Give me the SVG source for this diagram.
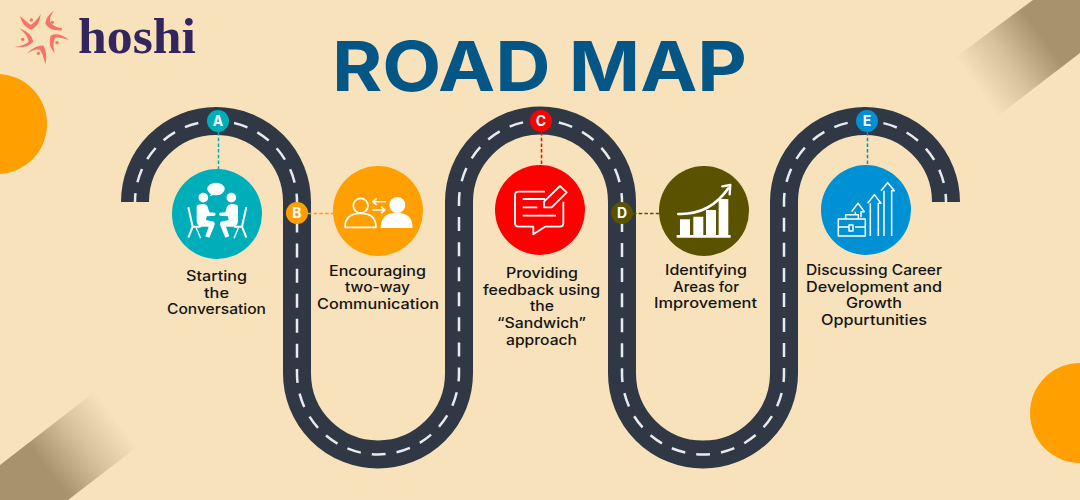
<svg xmlns="http://www.w3.org/2000/svg" width="1080" height="500" viewBox="0 0 1080 500">
<style>
.lbl{font-family:"Inter","Noto Sans",sans-serif;font-size:14px;font-weight:500;fill:#141414}
.bdg{font-family:"Inter","Noto Sans",sans-serif;font-size:14px;font-weight:700;fill:#fff;text-anchor:middle}
.ol{fill:none;stroke:#fff;stroke-linejoin:round}
.fl{fill:#fff}
.lnk{fill:none;stroke-width:1.500;stroke-dasharray:3.500 2.200}
.sw{fill:#f4736c}
</style>
<defs>
<linearGradient id="bandTR" gradientUnits="userSpaceOnUse" x1="1047" y1="43" x2="980" y2="92"><stop offset="0" stop-color="#a8926c"/><stop offset=".5" stop-color="#a8926c" stop-opacity=".42"/><stop offset="1" stop-color="#a8926c" stop-opacity="0"/></linearGradient>
<linearGradient id="bandBL" gradientUnits="userSpaceOnUse" x1="50" y1="473" x2="118" y2="421"><stop offset="0" stop-color="#a8926c"/><stop offset=".5" stop-color="#a8926c" stop-opacity=".42"/><stop offset="1" stop-color="#a8926c" stop-opacity="0"/></linearGradient>
<g id="sitter"><path class="fl" d="M50,92Q55,86 70,87Q80,88 83,95L88,112L104,113Q110,117 104,122L80,124L78,135L102,140Q106,145 103,152L88,188L76,184L86,155L62,155Q52,152 50,140Z"/><path fill="none" stroke="#fff" stroke-width="6" d="M25,97L38,155L62,155M38,155L25,188"/><path fill="none" stroke="#fff" stroke-width="4" d="M48,157L62,190"/><circle class="fl" cx="70" cy="68" r="14.500"/></g>
</defs>
<rect width="1080" height="500" fill="#f7e2bb"/>
<polygon points="1033,0 1080,0 1080,53 990,122 945,65" fill="url(#bandTR)"/>
<polygon points="0,465 110,380 150,437 68,500 0,500" fill="url(#bandBL)"/>
<circle cx="-3" cy="124" r="50" fill="#ffa000"/>
<circle cx="1080" cy="413" r="50" fill="#ffa000"/>
<g id="logo">
<g transform="translate(10,5) scale(.3333)">
<path class="sw" d="M30,33Q52,52 62,60Q78,50 92,28Q90,62 64,74Q38,66 30,33Z"/><circle class="sw" cx="64" cy="45" r="5"/>
<path class="sw" d="M132,17Q118,36 120,50Q130,66 156,70L156,76Q118,78 106,56Q108,32 132,17Z"/><circle class="sw" cx="127" cy="52" r="5"/>
<path class="sw" d="M177,105Q150,95 136,98Q126,112 134,145Q112,120 122,92Q146,80 177,105Z"/><circle class="sw" cx="141" cy="113" r="5"/>
<path class="sw" d="M50,146Q78,120 100,122Q114,144 106,178Q100,150 90,134Q74,130 50,146Z"/><circle class="sw" cx="85" cy="145" r="5"/>
<path class="sw" d="M14,126Q44,122 56,110Q54,92 28,70Q66,84 70,110Q52,130 14,126Z"/><circle class="sw" cx="38" cy="103" r="5"/>
</g>
<text x="78" y="52.500" font-family="'Liberation Serif',serif" font-weight="700" font-size="50" fill="#33265f" textLength="118" lengthAdjust="spacingAndGlyphs">hoshi</text>
</g>
<text id="title" x="332" y="91" font-family="Inter,'Noto Sans',sans-serif" font-weight="700" font-size="69" fill="#045686" textLength="415" lengthAdjust="spacingAndGlyphs">ROAD MAP</text>
<g id="road">
<path id="roadBase" fill="none" stroke="#2f3844" stroke-width="28" d="M135,202A81,81 0 0 1 297,202V373.500A81,81 0 0 0 459,373.500V202A81.500,81.500 0 0 1 622,202V373.500A81,81 0 0 0 784,373.500V202A81,81 0 0 1 946,202"/>
<path id="roadDash" fill="none" stroke="#e8eaed" stroke-width="2.500" stroke-dasharray="14 11.060" stroke-dashoffset="5.060" d="M135,202A81,81 0 0 1 297,202V373.500A81,81 0 0 0 459,373.500V202A81.500,81.500 0 0 1 622,202V373.500A81,81 0 0 0 784,373.500V202A81,81 0 0 1 946,202"/>
</g>
<g id="connectors">
<path class="lnk" stroke="#00aeb9" d="M218.500,132V169"/>
<path class="lnk" stroke="#ffa000" d="M308,213.500H333"/>
<path class="lnk" stroke="#ff0000" d="M541.500,132V165"/>
<path class="lnk" stroke="#5b5200" d="M633,213.500H659"/>
<path class="lnk" stroke="#0090d4" d="M867.500,132V165"/>
</g>
<g id="node-a">
<circle cx="217" cy="214" r="45" fill="#00aeb9"/>
<g transform="translate(180,175) scale(.3333)">
<ellipse class="fl" cx="108" cy="42" rx="26" ry="19"/><path class="fl" d="M96,55L88,64L108,58Z"/>
<use href="#sitter"/><use href="#sitter" transform="translate(224,0) scale(-1,1)"/>
</g>
<circle cx="218" cy="121" r="11" fill="#00aeb9"/><text class="bdg" x="218" y="126">A</text>
<text class="lbl" x="186" y="281" textLength="61" lengthAdjust="spacingAndGlyphs">Starting</text>
<text class="lbl" x="204" y="298" textLength="25" lengthAdjust="spacingAndGlyphs">the</text>
<text class="lbl" x="167" y="314" textLength="99" lengthAdjust="spacingAndGlyphs">Conversation</text>
</g>
<g id="node-b">
<circle cx="378" cy="211" r="45" fill="#ffa000"/>
<g transform="translate(160,160) scale(.3333)">
<circle class="ol" stroke-width="5" cx="602" cy="137" r="22"/>
<path class="ol" stroke-width="5" d="M555,202Q555,160 602,160Q648,160 648,202Z"/>
<circle class="fl" cx="712" cy="135" r="24"/>
<path class="fl" d="M662,204Q662,158 710,158Q758,158 758,204Z"/>
<path class="ol" stroke-width="4.500" d="M678,125H638M650,115L638,125L650,135M637,150H675M663,140L675,150L663,160"/>
</g>
<circle cx="297" cy="213" r="11" fill="#ffa000"/><text class="bdg" x="297" y="218">B</text>
<text class="lbl" x="329" y="276" textLength="97" lengthAdjust="spacingAndGlyphs">Encouraging</text>
<text class="lbl" x="345" y="292" textLength="65" lengthAdjust="spacingAndGlyphs">two-way</text>
<text class="lbl" x="317" y="309" textLength="122" lengthAdjust="spacingAndGlyphs">Communication</text>
</g>
<g id="node-c">
<circle cx="540" cy="210" r="45" fill="#ff0000"/>
<g transform="translate(480,100) scale(.3333)">
<path class="ol" stroke-width="5.500" d="M195,275L115,275Q105,275 105,285L105,370Q105,380 115,380L160,380L160,403L195,380L240,380Q250,380 250,370L250,305"/>
<path class="ol" stroke-width="5.500" d="M128,297H195M128,322H172M128,347H228M240,258L260,277L215,322L192,322L192,305Z"/>
</g>
<circle cx="541" cy="121" r="11" fill="#ff0000"/><text class="bdg" x="541" y="126">C</text>
<text class="lbl" x="506" y="278" textLength="72" lengthAdjust="spacingAndGlyphs">Providing</text>
<text class="lbl" x="483" y="295" textLength="117" lengthAdjust="spacingAndGlyphs">feedback using</text>
<text class="lbl" x="530" y="311" textLength="24" lengthAdjust="spacingAndGlyphs">the</text>
<text class="lbl" x="497" y="328" textLength="89" lengthAdjust="spacingAndGlyphs">“Sandwich”</text>
<text class="lbl" x="506" y="345" textLength="71" lengthAdjust="spacingAndGlyphs">approach</text>
</g>
<g id="node-d">
<circle cx="704" cy="211" r="45" fill="#5b5200"/>
<g transform="translate(480,100) scale(.3333)">
<path class="fl" d="M600,358H630V405H600ZM640,350H670V405H640ZM678,330H708V405H678ZM716,297H745V405H716ZM590,405H752V413H590Z"/>
<path class="ol" stroke-width="8" stroke-linecap="round" d="M595,342Q690,345 745,265"/>
<path class="ol" stroke-width="7" stroke-linecap="round" d="M727,259L751,255L749,283"/>
</g>
<circle cx="622" cy="213" r="11" fill="#5b5200"/><text class="bdg" x="622" y="218">D</text>
<text class="lbl" x="665" y="275" textLength="82" lengthAdjust="spacingAndGlyphs">Identifying</text>
<text class="lbl" x="673" y="292" textLength="66" lengthAdjust="spacingAndGlyphs">Areas for</text>
<text class="lbl" x="654" y="308" textLength="103" lengthAdjust="spacingAndGlyphs">Improvement</text>
</g>
<g id="node-e">
<circle cx="866" cy="210" r="45" fill="#0090d4"/>
<g transform="translate(780,100) scale(.3333)">
<g class="ol" stroke-width="4.500" stroke-linejoin="miter">
<path d="M175,357H256V408H175ZM197,357V344H235V357M175,381H207M225,381H256M207,375H219V393H207Z"/>
<path d="M215,335L234,310L253,335H243V352M226,335V345"/>
<path d="M263,310L283,284L303,310H295V408M271,310V408"/>
<path d="M303,272L323,248L343,272H335V408M312,272V408"/>
</g>
</g>
<circle cx="867" cy="121" r="11" fill="#0090d4"/><text class="bdg" x="867" y="126">E</text>
<text class="lbl" x="806" y="275" textLength="136" lengthAdjust="spacingAndGlyphs">Discussing Career</text>
<text class="lbl" x="806" y="292" textLength="136" lengthAdjust="spacingAndGlyphs">Development and</text>
<text class="lbl" x="846" y="308" textLength="56" lengthAdjust="spacingAndGlyphs">Growth</text>
<text class="lbl" x="821" y="325" textLength="106" lengthAdjust="spacingAndGlyphs">Oppurtunities</text>
</g>
</svg>
